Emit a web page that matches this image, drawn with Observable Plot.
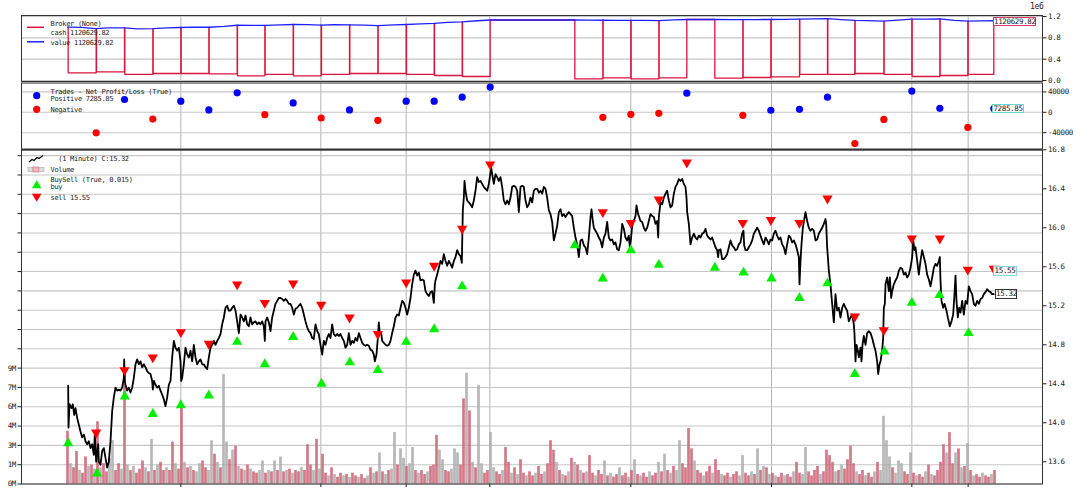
<!DOCTYPE html>
<html><head><meta charset="utf-8">
<script src="https://cdn.jsdelivr.net/npm/d3@7"></script>
<script src="https://cdn.jsdelivr.net/npm/@observablehq/plot@0.6"></script>
<style>
body{margin:0;background:#fff;}
#wrap{position:relative;width:1080px;height:494px;overflow:hidden;background:#fff;}
#wrap svg.plot{position:absolute;left:0;top:0;max-width:none;}
#wrap svg text{letter-spacing:-0.35px;}
.t{position:absolute;font-family:"DejaVu Sans Mono",monospace;font-size:7px;color:#222;white-space:pre;line-height:6px;height:6px;letter-spacing:-0.3px;}
.box{position:absolute;box-sizing:border-box;border:1px solid #333;background:#fff;font-family:"DejaVu Sans Mono",monospace;font-size:7.5px;color:#222;line-height:7px;text-align:center;white-space:pre;letter-spacing:-0.35px;}
</style></head><body><div id="wrap"></div>
<script>
// ---------------- data ----------------
const xTicks = [340, 760, 1016, 1267, 1690, 2112, 2533, 2702];

const closeSeries = [
[2,14.38],[3,13.95],[6,14.19],[12,14.15],[16,14.19],[20,14.08],[24,14.15],[29,14.05],[34,13.98],[39,13.91],[44,13.85],[49,13.88],[54,13.81],[59,13.78],[64,13.81],[69,13.74],[74,13.78],[79,13.67],[82,13.88],[86,13.60],[92,13.78],[94,13.60],[99,13.57],[104,13.71],[109,13.74],[114,13.64],[119,13.54],[124,13.60],[129,13.81],[134,14.12],[139,14.26],[144,14.36],[149,14.33],[154,14.34],[159,14.33],[164,14.36],[169,14.46],[170,14.65],[172,14.43],[174,14.39],[179,14.33],[184,14.36],[189,14.31],[194,14.36],[199,14.46],[204,14.60],[209,14.65],[214,14.60],[219,14.63],[224,14.57],[229,14.60],[234,14.57],[239,14.53],[244,14.51],[249,14.50],[254,14.43],[256,14.34],[259,14.43],[264,14.39],[269,14.36],[274,14.38],[279,14.33],[284,14.29],[289,14.24],[294,14.17],[299,14.26],[304,14.39],[309,14.43],[314,14.67],[319,14.84],[324,14.77],[329,14.74],[334,14.77],[339,14.63],[341,14.43],[344,14.46],[349,14.60],[354,14.77],[359,14.70],[364,14.67],[369,14.74],[374,14.63],[379,14.80],[384,14.67],[389,14.60],[394,14.63],[399,14.65],[404,14.60],[409,14.60],[414,14.57],[419,14.55],[424,14.67],[429,14.77],[434,14.80],[439,14.84],[444,14.80],[449,14.84],[454,14.87],[459,14.91],[464,15.01],[469,15.08],[474,15.18],[479,15.20],[484,15.15],[489,15.15],[494,15.18],[499,15.20],[504,15.15],[509,15.04],[514,14.92],[519,15.11],[524,15.08],[529,15.04],[534,15.10],[539,15.01],[544,14.99],[549,15.08],[554,15.01],[559,15.03],[564,15.04],[569,15.01],[574,15.03],[579,15.01],[584,15.04],[589,14.99],[592,14.84],[594,15.04],[599,15.08],[604,15.03],[609,14.94],[614,15.08],[619,15.15],[624,15.22],[629,15.25],[634,15.28],[639,15.28],[644,15.27],[649,15.25],[654,15.27],[659,15.25],[664,15.22],[669,15.22],[674,15.18],[679,15.11],[684,15.17],[689,15.18],[694,15.20],[699,15.22],[704,15.18],[709,15.11],[714,15.04],[719,14.98],[724,14.94],[729,14.92],[734,14.87],[739,14.86],[744,15.01],[749,14.94],[754,14.91],
[759,14.80],[764,14.70],[769,14.84],[774,14.80],[779,14.87],[784,14.91],[789,14.87],[794,15.01],[799,14.91],[804,14.89],[809,14.91],[814,14.89],[819,14.91],[824,14.87],[829,14.84],[834,14.77],[839,14.80],[844,14.92],[849,14.80],[854,14.84],[859,14.82],[864,14.87],[869,14.84],[874,14.92],[879,14.87],[884,14.82],[889,14.80],[894,14.79],[899,14.80],[904,14.79],[909,14.75],[914,14.74],[919,14.70],[922,14.63],[927,14.70],[931,14.87],[934,15.03],[937,14.91],[941,14.92],[944,14.84],[949,14.82],[954,14.80],[959,14.79],[964,14.80],[969,14.84],[974,14.92],[979,14.99],[984,15.08],[989,15.11],[994,15.10],[999,15.18],[1004,15.25],[1009,15.23],[1014,15.18],[1019,15.11],[1024,15.18],[1029,15.28],[1034,15.42],[1039,15.52],[1044,15.56],[1049,15.51],[1054,15.54],[1059,15.46],[1064,15.47],[1069,15.46],[1074,15.35],[1079,15.32],[1084,15.30],[1089,15.34],[1094,15.35],[1099,15.23],[1102,15.42],[1104,15.46],[1109,15.52],[1114,15.59],[1119,15.66],[1124,15.63],[1129,15.73],[1134,15.66],[1139,15.61],[1144,15.66],[1149,15.63],[1154,15.59],[1159,15.66],[1164,15.70],[1169,15.77],[1174,15.73],[1179,15.71],[1183,15.64],[1184,15.83],[1186,16.18],[1189,16.31],[1191,16.48],[1194,16.38],[1199,16.28],[1204,16.26],[1209,16.24],[1214,16.21],[1219,16.28],[1224,16.38],[1229,16.52],[1234,16.47],[1239,16.48],[1244,16.45],[1249,16.42],[1254,16.40],[1259,16.38],[1264,16.45],[1267,16.52],[1271,16.62],[1274,16.55],[1279,16.45],[1284,16.55],[1289,16.52],[1294,16.48],[1299,16.52],[1304,16.42],[1309,16.28],[1314,16.24],[1319,16.28],[1324,16.24],[1329,16.31],[1334,16.42],[1339,16.43],[1344,16.42],[1349,16.38],[1354,16.16],[1359,16.42],[1364,16.43],[1369,16.42],[1374,16.28],[1379,16.21],[1384,16.24],[1389,16.31],[1394,16.26],[1399,16.38],[1404,16.40],[1409,16.40],[1414,16.36],[1419,16.38],[1424,16.35],[1429,16.42],[1434,16.40],[1439,16.31],[1444,16.18],[1449,16.14],[1454,16.06],[1459,15.87],[1464,15.94],[1469,16.02],[1474,16.16],[1479,16.19],[1484,16.12],[1489,16.14],[1494,16.11],[1499,16.14],[1504,16.16],[1509,16.14],[1514,16.12],[1519,16.00],[1524,15.90],[1529,15.83],[1534,15.70],[1539,15.87],[1544,15.88],[1549,15.82],
[1554,15.80],[1559,15.73],[1564,15.90],[1569,16.11],[1572,16.19],[1576,16.07],[1579,16.00],[1584,15.97],[1589,15.94],[1594,15.90],[1599,15.87],[1604,15.80],[1609,15.90],[1614,15.94],[1619,16.06],[1624,15.90],[1629,15.87],[1634,15.88],[1639,15.83],[1644,15.85],[1649,15.78],[1654,15.77],[1659,15.85],[1664,16.04],[1669,15.99],[1674,15.90],[1679,15.87],[1684,15.92],[1687,15.80],[1690,15.87],[1694,16.02],[1699,16.07],[1704,16.12],[1707,16.23],[1712,16.14],[1719,16.07],[1724,16.06],[1729,16.00],[1734,15.97],[1739,16.00],[1744,16.07],[1749,16.14],[1754,16.12],[1759,16.11],[1764,16.04],[1769,16.07],[1772,15.90],[1774,16.11],[1779,16.26],[1784,16.24],[1789,16.31],[1794,16.35],[1799,16.38],[1804,16.28],[1809,16.21],[1814,16.23],[1819,16.35],[1824,16.42],[1829,16.45],[1834,16.50],[1839,16.48],[1844,16.50],[1849,16.45],[1854,16.42],[1857,16.31],[1859,16.16],[1864,16.04],[1869,15.83],[1874,15.90],[1879,15.94],[1884,15.90],[1889,15.88],[1894,15.92],[1899,15.90],[1904,15.94],[1909,15.95],[1914,15.99],[1919,15.92],[1924,15.90],[1929,15.88],[1934,15.90],[1939,15.85],[1944,15.80],[1949,15.77],[1952,15.70],[1954,15.77],[1959,15.78],[1964,15.68],[1969,15.68],[1974,15.70],[1979,15.73],[1984,15.80],[1989,15.87],[1994,15.82],[1999,15.80],[2004,15.77],[2009,15.78],[2014,15.83],[2019,15.85],[2024,15.94],[2028,15.97],[2030,15.82],[2034,15.77],[2039,15.77],[2044,15.80],[2049,15.83],[2054,15.87],[2059,15.94],[2064,15.97],[2069,16.00],[2074,15.97],[2079,15.92],[2084,15.87],[2089,15.83],[2094,15.90],[2099,15.87],[2104,15.83],[2109,15.88],[2114,15.87],[2119,15.94],[2124,15.97],[2129,15.92],[2134,15.88],[2139,15.90],[2144,15.83],[2149,15.80],[2154,15.73],[2159,15.83],[2164,15.92],[2169,15.90],[2174,15.85],[2179,15.87],[2184,15.83],[2189,15.77],[2194,15.70],[2196,15.42],[2199,15.66],[2202,15.83],[2206,16.00],[2209,16.06],[2214,16.16],[2219,16.07],[2224,16.00],[2229,15.97],[2234,15.99],[2239,15.97],[2244,15.87],[2249,15.88],[2254,15.94],[2259,15.97],[2264,16.00],[2269,16.04],[2274,16.09],[2276,16.04],[2279,15.80],[2284,15.56],[2289,15.42],[2294,15.22],[2299,15.03],[2304,15.32],[2309,15.15],[2314,15.18],
[2319,15.08],[2324,15.18],[2329,15.22],[2334,15.18],[2339,15.15],[2344,15.04],[2349,15.08],[2354,15.11],[2359,15.01],[2361,14.91],[2364,14.63],[2367,14.80],[2371,14.74],[2374,14.67],[2379,14.77],[2382,14.63],[2385,14.80],[2389,14.89],[2394,14.80],[2399,14.92],[2404,14.94],[2409,14.92],[2414,14.87],[2419,14.80],[2424,14.74],[2429,14.63],[2432,14.50],[2436,14.60],[2439,14.63],[2444,14.74],[2447,14.87],[2449,15.18],[2452,15.22],[2454,15.42],[2459,15.49],[2464,15.35],[2467,15.49],[2471,15.28],[2474,15.35],[2479,15.42],[2484,15.46],[2489,15.49],[2494,15.56],[2499,15.59],[2504,15.58],[2509,15.52],[2514,15.54],[2519,15.49],[2524,15.52],[2529,15.59],[2534,15.70],[2537,15.87],[2541,15.77],[2544,15.80],[2549,15.66],[2554,15.52],[2559,15.66],[2564,15.77],[2569,15.70],[2574,15.63],[2579,15.52],[2584,15.47],[2589,15.40],[2594,15.49],[2599,15.59],[2604,15.63],[2609,15.61],[2614,15.66],[2617,15.70],[2619,15.46],[2622,15.25],[2627,15.18],[2631,15.22],[2637,15.15],[2641,15.08],[2647,14.99],[2652,15.04],[2657,15.11],[2661,15.32],[2664,15.51],[2667,15.25],[2671,15.08],[2675,15.18],[2679,15.13],[2684,15.25],[2689,15.11],[2694,15.25],[2699,15.22],[2704,15.40],[2709,15.35],[2714,15.32],[2719,15.22],[2724,15.20],[2729,15.25],[2734,15.22],[2739,15.27],[2744,15.28],[2749,15.32],[2754,15.34],[2759,15.37],[2764,15.35],[2769,15.34],[2774,15.32],[2779,15.32]
];

// volume in millions, one reading per 9 bars starting at bar 0; r = down (red), g = up (grey)
const volume = [
3.9,1.5,1.2,2.4,1.0,0.8,2.0,1.3,1.4,1.1,
4.6,1.2,1.5,0.9,1.9,3.2,1.0,1.5,1.1,8.5,
1.4,1.0,1.3,0.8,1.1,1.7,1.2,0.9,3.3,1.0,
1.4,1.6,1.0,1.2,1.0,3.1,1.5,1.1,5.9,1.6,
1.2,1.3,1.0,0.9,1.5,1.7,1.2,1.0,3.2,2.2,
1.6,1.2,8.1,3.1,1.8,2.5,2.8,1.3,1.1,1.0,
1.4,1.1,0.9,0.8,1.0,1.7,0.8,1.0,0.9,1.7,
1.0,2.0,0.9,1.0,1.1,0.8,1.0,0.9,1.2,1.0,
2.9,1.4,1.0,3.3,1.1,2.2,0.8,0.6,1.2,0.7,
0.5,0.8,0.6,0.7,0.5,0.8,0.6,0.5,0.7,0.4,
0.6,1.2,0.8,0.9,2.3,0.9,0.7,1.0,1.1,3.8,
1.4,2.6,1.9,1.3,1.5,2.7,1.0,0.8,1.0,0.7,
0.9,1.3,1.4,3.6,2.5,1.8,1.0,0.9,1.1,2.6,
2.3,1.4,6.3,8.2,5.4,1.6,1.2,7.3,1.5,0.8,
1.0,3.8,1.2,0.9,0.7,1.0,2.7,1.6,0.8,1.2,
0.7,1.8,0.8,0.6,0.9,0.6,0.8,1.3,0.7,0.9,
1.5,3.2,2.5,1.6,1.0,0.7,0.6,0.9,1.9,1.6,
1.4,1.0,0.8,0.9,2.1,0.8,0.6,1.0,0.7,1.7,
0.6,0.8,0.5,0.7,1.2,0.6,0.8,0.5,1.0,1.8,
0.7,0.6,0.8,0.5,0.9,0.6,0.8,1.6,0.9,2.2,
1.0,0.8,1.3,1.0,3.2,1.5,1.2,4.1,2.6,1.7,
1.0,0.8,0.6,0.9,1.3,0.8,1.8,1.0,0.7,0.6,
0.8,0.5,0.7,0.9,0.6,2.1,0.8,0.6,0.9,0.7,
2.6,1.0,1.3,1.2,0.7,0.8,0.6,0.5,0.8,0.6,
0.7,0.5,0.9,1.6,0.8,0.7,2.7,0.9,0.6,1.0,
1.3,0.7,0.9,2.5,2.1,1.6,0.9,1.0,1.4,1.1,
1.8,2.8,1.5,0.9,0.7,1.0,0.6,0.8,0.5,0.9,
1.6,1.0,5.0,3.2,2.0,1.2,0.8,1.7,1.5,0.9,
0.7,2.3,0.8,0.6,0.7,0.5,0.9,1.4,0.7,0.6,
1.0,1.6,2.9,2.3,3.8,1.5,2.3,2.6,1.2,1.3,
3.0,1.0,0.6,0.7,0.5,0.8,0.6,0.5,0.7,1.0];
const volumeDir =
"rgrrgrrgrg"+"rgrrggrrgr"+"grgrrrgrgr"+"grrgrrgrrg"+"rgrggrrggr"+"grggrgrgrg"+"rgrrggrgrg"+"rgrgrgrrgr"+"rrgrgrrgrg"+"rrgrgrrgrr"+
"grgrgrgrgg"+"rggrggrgrr"+"grrrggrrgg"+"grrgrgrggr"+"rggrrgrrgr"+"grrgrrgrrg"+"rrrgrgrgrg"+"rgrgrrgrrg"+"rgrrgrrgrg"+"rgrrgrrgrg"+
"rgrggrrrrg"+"rrgrrgrrgr"+"rgrrggrrgr"+"grgrgrgrrg"+"rrgrrggrrr"+"rgrrrrgrgr"+"rrrgrrgrrg"+"rggggrgggr"+"rgrgrrgrgr"+"rrrgrrgrgr"+"grgrrgrrgr";

const buyBars   = [2,89,172,256,340,424,509,592,677,762,847,931,1016,1100,1184,1522,1606,1690,1774,1942,2028,2112,2196,2280,2362,2451,2533,2616,2703];
const buyPrices = [13.79,13.48,14.27,14.09,14.18,14.28,14.83,14.60,14.88,14.40,14.62,14.54,14.83,14.96,15.40,15.82,15.48,15.77,15.62,15.59,15.54,15.48,15.28,15.43,14.50,14.73,15.23,15.31,14.92];
const sellBars   = [86,171,256,340,424,509,592,677,761,846,931,1016,1100,1184,1268,1606,1690,1774,1858,2026,2110,2196,2280,2362,2449,2533,2617,2701,2779];
const sellPrices = [13.90,14.54,14.67,14.93,14.81,15.42,15.23,15.43,15.21,15.08,14.91,15.44,15.61,15.99,16.65,16.16,16.05,16.29,16.67,16.05,16.08,16.05,16.30,15.09,14.95,15.89,15.89,15.57,15.58];

const tradeBars = sellBars;
const tradePnl  = [-40200,25100,-13200,21800,4600,38200,-4600,18400,-11200,4600,-15800,21800,21800,29700,49500,-9900,-4000,-2000,37600,-5900,4000,5900,29700,-61400,-13900,41600,7900,-29700,7285.85];

const cashSeries = [[0,1000000],[2,144000],[86,972000],[87,163000],[171,985000],[172,113000],[256,972000],[257,131000],[340,994000],[341,131000],[424,998000],[425,126000],[509,1036000],[510,88000],[592,1032000],[593,113000],[677,1050000],[678,88000],[761,1039000],[762,113000],[846,1044000],[847,131000],[931,1028000],[932,131000],[1016,1050000],[1017,113000],[1100,1072000],[1101,94000],[1184,1100000],[1185,75000],[1268,1134000],[1522,32000],[1606,1130000],[1607,51000],[1690,1126000],[1691,32000],[1774,1124000],[1775,51000],[1858,1144000],[1942,43000],[2026,1140000],[2027,56000],[2110,1144000],[2111,69000],[2196,1150000],[2197,113000],[2280,1160000],[2281,113000],[2362,1128000],[2363,131000],[2449,1115000],[2450,113000],[2533,1150000],[2534,75000],[2617,1155000],[2618,94000],[2701,1113000],[2702,113000],[2779,1120630]];
const valueSeries = [[2,1000000],[40,995000],[86,972000],[120,985000],[171,985000],[210,968000],[256,972000],[300,985000],[340,994000],[380,1000000],[424,998000],[470,1015000],[509,1036000],[550,1035000],[592,1032000],[640,1042000],[677,1050000],[720,1048000],[761,1039000],[800,1045000],[846,1044000],[890,1040000],[931,1028000],[980,1042000],[1016,1050000],[1060,1062000],[1100,1072000],[1140,1088000],[1184,1100000],[1230,1120000],[1268,1134000],[1522,1134000],[1560,1131000],[1606,1130000],[1650,1128000],[1690,1126000],[1730,1126000],[1774,1124000],[1820,1136000],[1858,1144000],[1942,1144000],[1990,1142000],[2026,1140000],[2070,1143000],[2110,1144000],[2150,1147000],[2196,1150000],[2240,1156000],[2280,1160000],[2320,1142000],[2362,1128000],[2400,1122000],[2449,1115000],[2490,1132000],[2533,1150000],[2580,1150000],[2617,1155000],[2660,1128000],[2701,1113000],[2740,1117000],[2779,1120630]];

const brokerTicks = [0, 400000, 800000, 1200000];
const pnlTicks = [-40000, 0, 40000];
const priceTicks = [13.6, 14.0, 14.4, 14.8, 15.2, 15.6, 16.0, 16.4, 16.8];
const volTicks = [0,1428571,2857143,4285714,5714286,7142857,8571429,10000000,11428571,12857143,14285714,15714286,17142857,18571429,20000000,21428571,22857143,24285714];
const volTickLabels = ["0M","1M","3M","4M","6M","7M","9M"];

// ---------------- drawing ----------------
const W = 1080, H = 494, ML = 21, MR = 38;
const FONT = '"DejaVu Sans Mono", monospace';
const XS = {domain: [-138, 2925], axis: null};
const base = {width: W, height: H, marginLeft: ML, marginRight: MR,
  style: {background: "transparent", fontFamily: FONT, fontSize: "7.5px", color: "#222", overflow: "visible"}};
const GRIDV = {stroke: "#b4b4b4", strokeOpacity: 1, strokeWidth: 1};
const GRIDH = {stroke: "#c6c6c6", strokeOpacity: 1, strokeWidth: 1.1};
const wrap = document.getElementById("wrap");

// Panel 1 – broker
const p1 = Plot.plot({...base, marginTop: 15, marginBottom: H - 81,
  x: XS, y: {domain: [-18750, 1218750], axis: null}, color: {type: "identity"},
  marks: [
    Plot.gridX(xTicks, GRIDV),
    Plot.gridY(brokerTicks, GRIDH),
    Plot.line(cashSeries, {x: d => d[0], y: d => d[1], curve: "step-after", stroke: "#dc143c", strokeWidth: 1.3}),
    Plot.line(valueSeries, {x: d => d[0], y: d => d[1], stroke: "#2020ff", strokeWidth: 1.3}),
    Plot.axisY({anchor: "right", ticks: brokerTicks, tickSize: 3.5, tickPadding: 2, tickFormat: d => (d / 1e6).toFixed(1), label: null}),
    Plot.frame({stroke: "#333"})
  ]});

// Panel 2 – trades
const trades = tradeBars.map((b, i) => ({bar: b, pnl: tradePnl[i]}));
const p2 = Plot.plot({...base, marginTop: 82.5, marginBottom: H - 148.5,
  x: XS, y: {domain: [-72000, 57500], axis: null}, color: {type: "identity"},
  marks: [
    Plot.gridX(xTicks, GRIDV),
    Plot.gridY(pnlTicks, GRIDH),
    Plot.dot(trades, {x: "bar", y: "pnl", r: 3.6, fill: d => d.pnl >= 0 ? "#0000ff" : "#ff0000", stroke: "none"}),
    Plot.axisY({anchor: "right", ticks: pnlTicks, tickSize: 3.5, tickPadding: 2, tickFormat: d => String(d), label: null}),
    Plot.frame({stroke: "#333"})
  ]});

// Panel 3a – volume (underneath)
const vols = volume.map((v, i) => ({bar: i * 9, v: v * 1e6, c: volumeDir[i] === "r" ? "#cc6073" : "#aaaaaa"}));
const p3v = Plot.plot({...base, marginTop: 149.3, marginBottom: H - 483.5,
  x: XS, y: {domain: [0, 24720000], axis: null}, color: {type: "identity"},
  marks: [
    Plot.gridX(xTicks, GRIDV),
    Plot.gridY(volTicks, GRIDH),
    Plot.ruleX(vols, {x: "bar", y1: 0, y2: "v", stroke: "c", strokeWidth: 2.7, strokeOpacity: 0.85}),
    Plot.axisY({anchor: "left", ticks: volTicks, tickSize: 3.5, tickPadding: 2, label: null,
      tickFormat: d => { const k = volTicks.indexOf(d); return k >= 0 && k < volTickLabels.length ? volTickLabels[k] : ""; }}),
    Plot.axisX({anchor: "bottom", ticks: xTicks, tickSize: 3.5, tickFormat: () => "", label: null}),
    Plot.frame({stroke: "#333"})
  ]});

// Panel 3b – price (on top)
const buys = buyBars.map((b, i) => ({bar: b, p: buyPrices[i]}));
const sells = sellBars.map((b, i) => ({bar: b, p: sellPrices[i]}));
const p3 = Plot.plot({...base, marginTop: 149.3, marginBottom: H - 483.5,
  x: XS, y: {domain: [13.372, 16.8], axis: null},
  marks: [
    Plot.line(closeSeries, {x: d => d[0], y: d => d[1], stroke: "#000", strokeWidth: 1.8, strokeLinejoin: "round"}),
    Plot.dot(buys, {x: "bar", y: "p", symbol: "triangle", r: 3.8, fill: "#00ee00", stroke: "none"}),
    Plot.dot(sells, {x: "bar", y: "p", symbol: "triangle", r: 3.8, rotate: 180, fill: "#ff0000", stroke: "none"}),
    Plot.axisY({anchor: "right", ticks: priceTicks, tickSize: 3.5, tickPadding: 2, tickFormat: d => d.toFixed(1), label: null}),
    Plot.ruleY([16.8], {stroke: "#222", strokeWidth: 1.2})
  ]});

[p3v, p3, p2, p1].forEach(s => { s.classList.add("plot"); wrap.appendChild(s); });

// ---------------- legends & labels ----------------
function txt(s, left, cy, extra) {
  const d = document.createElement("div"); d.className = "t"; d.textContent = s;
  d.style.left = left + "px"; d.style.top = (cy - 3) + "px";
  if (extra) Object.assign(d.style, extra);
  wrap.appendChild(d);
}
function box(s, left, top, w, h, border, bg) {
  const d = document.createElement("div"); d.className = "box"; d.textContent = s;
  Object.assign(d.style, {left: left + "px", top: top + "px", width: w + "px", height: h + "px", borderColor: border, background: bg || "#fff"});
  wrap.appendChild(d);
}
const ns = "http://www.w3.org/2000/svg";
const icons = document.createElementNS(ns, "svg");
icons.setAttribute("width", W); icons.setAttribute("height", H);
icons.style.position = "absolute"; icons.style.left = "0"; icons.style.top = "0";
icons.innerHTML = `
  <line x1="27" y1="27.3" x2="44" y2="27.3" stroke="#dc143c" stroke-width="1.5"/>
  <line x1="27" y1="41.8" x2="44" y2="41.8" stroke="#2020ff" stroke-width="1.5"/>
  <circle cx="36.7" cy="95.7" r="3.6" fill="#0000ff"/>
  <circle cx="36.7" cy="109.3" r="3.6" fill="#ff0000"/>
  <polyline points="29,162 32,159.5 34,160.5 37,157.5 39,158.5 43,155.5" fill="none" stroke="#000" stroke-width="1.3"/>
  <rect x="28" y="167.5" width="5" height="4" fill="#ddd" stroke="#aaa" stroke-width="0.6"/>
  <rect x="33" y="167" width="6" height="5" fill="#f0b8c4" stroke="#cc6073" stroke-width="0.6"/>
  <rect x="39" y="167.5" width="5" height="4" fill="#ddd" stroke="#aaa" stroke-width="0.6"/>
  <path d="M36.7,180.2 L41.5,188.2 L31.9,188.2 Z" fill="#00ee00"/>
  <path d="M36.7,201.7 L41.5,193.7 L31.9,193.7 Z" fill="#ff0000"/>
`;
wrap.appendChild(icons);

txt("Broker (None)", 50.5, 23.5);
txt("cash 1120629.82", 50.5, 32.7);
txt("value 1120629.82", 50.5, 42.7);
txt("Trades - Net Profit/Loss (True)", 50.5, 91.8);
txt("Positive 7285.85", 50.5, 99.2);
txt("Negative", 50.5, 109.7);
txt("  (1 Minute) C:15.32", 50.5, 159.3);
txt("Volume", 50.5, 169.7);
txt("BuySell (True, 0.015)", 50.5, 180);
txt("buy", 50.5, 187.3);
txt("sell 15.55", 50.5, 198);
txt("1e6", 1030, 7, {fontSize: "8px"});

box("1120629.82", 993, 16.5, 43, 9, "#dc3c64");
box("7285.85", 992, 103.5, 32, 9, "#6ad6d6");
box("15.55", 993, 266, 24, 9.5, "#7fdcdc", "#fff4f6");
box("15.32", 995, 289, 21.5, 9.5, "#333");
</script></body></html>
